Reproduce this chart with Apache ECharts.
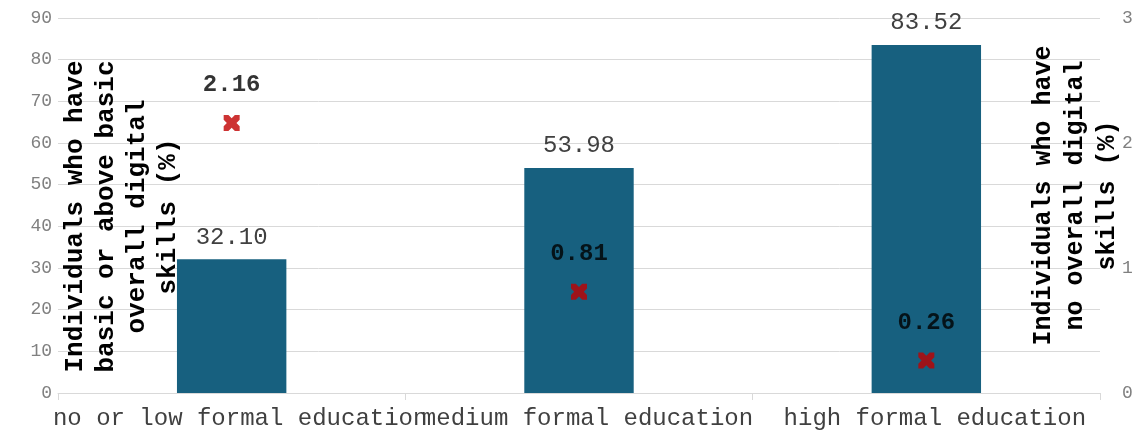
<!DOCTYPE html>
<html>
<head>
<meta charset="utf-8">
<script src="https://cdn.jsdelivr.net/npm/echarts@6/dist/echarts.min.js"></script>
<style>
  html, body { margin: 0; padding: 0; background: #ffffff; }
  #chart { width: 1138px; height: 434px; }
</style>
</head>
<body>
<div id="chart"></div>
<script>
// Education levels on the category axis
const categories = ['no or low formal education', 'medium formal education', 'high formal education'];
// Share with basic or above basic overall digital skills (%), left axis
const basicOrAbove = [32.10, 53.98, 83.52];
// Share with no overall digital skills (%), right axis
const noSkills = [2.16, 0.81, 0.26];

const mono = '"Liberation Mono", "Courier New", monospace';
const crossPath = 'path://M0,0 L3,0 L5,2 L7,0 L10,0 L10,3 L8,5 L10,7 L10,10 L7,10 L5,8 L3,10 L0,10 L0,7 L2,5 L0,3 Z';

const chart = echarts.init(document.getElementById('chart'), null, { renderer: 'canvas' });

chart.setOption({
  animation: false,
  backgroundColor: '#ffffff',
  grid: { left: 58, right: 38, top: 18, bottom: 41, outerBoundsMode: 'none', containLabel: false },
  xAxis: {
    type: 'category',
    data: categories,
    axisLine: { show: true, lineStyle: { color: '#d9d9d9', width: 1 } },
    axisTick: { show: true, length: 7, lineStyle: { color: '#d9d9d9' } },
    axisLabel: {
      interval: 0, hideOverlap: false, margin: 14, padding: [0, 0, 0, 17],
      fontFamily: mono, fontSize: 24, color: '#404040'
    }
  },
  yAxis: [
    {
      type: 'value', min: 0, max: 90, interval: 10, position: 'left',
      axisLine: { show: false }, axisTick: { show: false },
      splitLine: { lineStyle: { color: '#d9d9d9', width: 1 } },
      axisLabel: { fontFamily: mono, fontSize: 18, color: '#808080', margin: 6 },
      name: 'Individuals who have\nbasic or above basic\noverall digital\nskills (%)',
      nameLocation: 'middle', nameRotate: 90, nameGap: -64, nameMoveOverlap: false,
      nameTextStyle: {
        fontFamily: mono, fontSize: 26, fontWeight: 'bold', color: '#000000',
        align: 'center', verticalAlign: 'middle', lineHeight: 31, padding: [0, 22, 0, 0]
      }
    },
    {
      type: 'value', min: 0, max: 3, interval: 1, position: 'right',
      axisLine: { show: false }, axisTick: { show: false },
      splitLine: { show: false },
      axisLabel: { fontFamily: mono, fontSize: 18, color: '#808080', margin: 22 },
      name: 'Individuals who have\nno overall digital\nskills (%)',
      nameLocation: 'middle', nameRotate: 90, nameGap: -24, nameMoveOverlap: false,
      nameTextStyle: {
        fontFamily: mono, fontSize: 25, fontWeight: 'bold', color: '#000000',
        align: 'center', verticalAlign: 'middle', lineHeight: 32, padding: [0, 0, 0, 20]
      }
    }
  ],
  series: [
    {
      name: 'basic or above basic',
      type: 'bar',
      yAxisIndex: 0,
      data: basicOrAbove,
      barWidth: '31.5%',
      itemStyle: { color: '#17607f' },
      label: {
        show: true, position: 'top', distance: 10,
        formatter: p => p.value.toFixed(2),
        fontFamily: mono, fontSize: 24, color: '#404040'
      },
      z: 2
    },
    {
      name: 'no overall skills',
      type: 'scatter',
      yAxisIndex: 1,
      data: noSkills,
      symbol: crossPath,
      symbolSize: 16,
      itemStyle: { color: '#c00000' },
      label: {
        show: true, position: 'top', distance: 18,
        formatter: p => p.value.toFixed(2),
        fontFamily: mono, fontSize: 24, fontWeight: 'bold', color: '#000000'
      },
      z: 3
    }
  ]
});
</script>
</body>
</html>
